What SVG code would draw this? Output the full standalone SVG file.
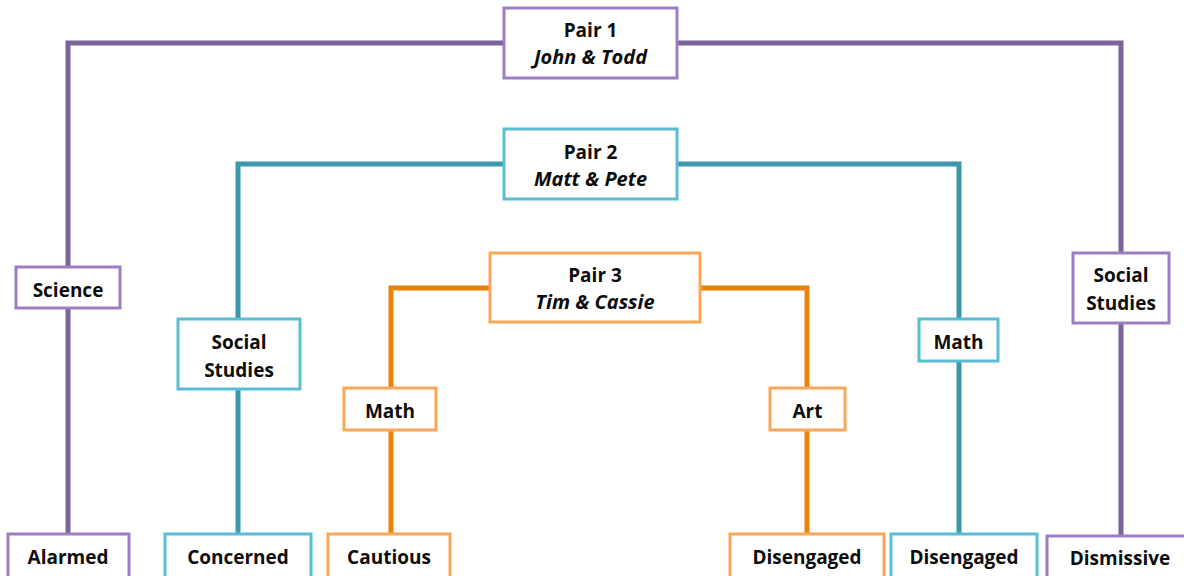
<svg xmlns="http://www.w3.org/2000/svg" width="1184" height="576" viewBox="0 0 1184 576">
<style>
.bg{fill:#ffffff}
.c{fill:none;stroke-width:5;stroke-linejoin:miter;stroke-linecap:butt}
.cp{stroke:#7d639c}
.ct{stroke:#3c97ab}
.co{stroke:#e8840e}
.n{fill:#ffffff;stroke-width:3}
.np{stroke:#9c7ec0}
.nt{stroke:#5bbdd4}
.no{stroke:#fba654}
text{font-family:"Open Sans","Liberation Sans",sans-serif;font-size:19px;font-weight:bold;fill:#0d0d0d;text-anchor:middle}
.i{font-style:italic;font-size:20px}
</style>
<rect class="bg" x="0" y="0" width="1184" height="576"/>
<g id="connectors">
<polyline class="c cp" points="68,534 68,43 1121,43 1121,536"/>
<polyline class="c ct" points="238,534 238,164 959,164 959,534"/>
<polyline class="c co" points="391,534 391,288 807,288 807,534"/>
</g>
<g id="pair1">
<rect class="n np" x="504" y="8" width="173" height="70"/>
<text x="590.5" y="36.5">Pair 1</text>
<text class="i" x="590.5" y="64">John &amp; Todd</text>
</g>
<g id="pair2">
<rect class="n nt" x="504" y="129" width="173" height="70"/>
<text x="590.5" y="158.5">Pair 2</text>
<text class="i" x="590.5" y="186">Matt &amp; Pete</text>
</g>
<g id="pair3">
<rect class="n no" x="490" y="253" width="210" height="69"/>
<text x="595" y="281.5">Pair 3</text>
<text class="i" x="595" y="309">Tim &amp; Cassie</text>
</g>
<g id="science">
<rect class="n np" x="16" y="267" width="104" height="41"/>
<text x="68" y="297">Science</text>
</g>
<g id="social-studies-teal">
<rect class="n nt" x="178" y="319" width="122" height="70"/>
<text x="239" y="349">Social</text>
<text x="239" y="377">Studies</text>
</g>
<g id="math-orange">
<rect class="n no" x="344" y="388" width="92" height="42"/>
<text x="390" y="418">Math</text>
</g>
<g id="art">
<rect class="n no" x="770" y="388" width="75" height="42"/>
<text x="807.5" y="418">Art</text>
</g>
<g id="math-teal">
<rect class="n nt" x="919" y="319" width="79" height="42"/>
<text x="958.5" y="349">Math</text>
</g>
<g id="social-studies-purple">
<rect class="n np" x="1073" y="253" width="96" height="70"/>
<text x="1121" y="282">Social</text>
<text x="1121" y="310">Studies</text>
</g>
<g id="alarmed">
<rect class="n np" x="8" y="534" width="121" height="50"/>
<text x="68" y="564">Alarmed</text>
</g>
<g id="concerned">
<rect class="n nt" x="165" y="534" width="146" height="50"/>
<text x="238" y="564">Concerned</text>
</g>
<g id="cautious">
<rect class="n no" x="328" y="534" width="122" height="50"/>
<text x="389" y="564">Cautious</text>
</g>
<g id="disengaged-orange">
<rect class="n no" x="730" y="534" width="154" height="50"/>
<text x="807" y="564">Disengaged</text>
</g>
<g id="disengaged-teal">
<rect class="n nt" x="891" y="534" width="146" height="50"/>
<text x="964" y="564">Disengaged</text>
</g>
<g id="dismissive">
<rect class="n np" x="1047" y="536" width="146" height="50"/>
<text x="1120" y="565">Dismissive</text>
</g>
</svg>
